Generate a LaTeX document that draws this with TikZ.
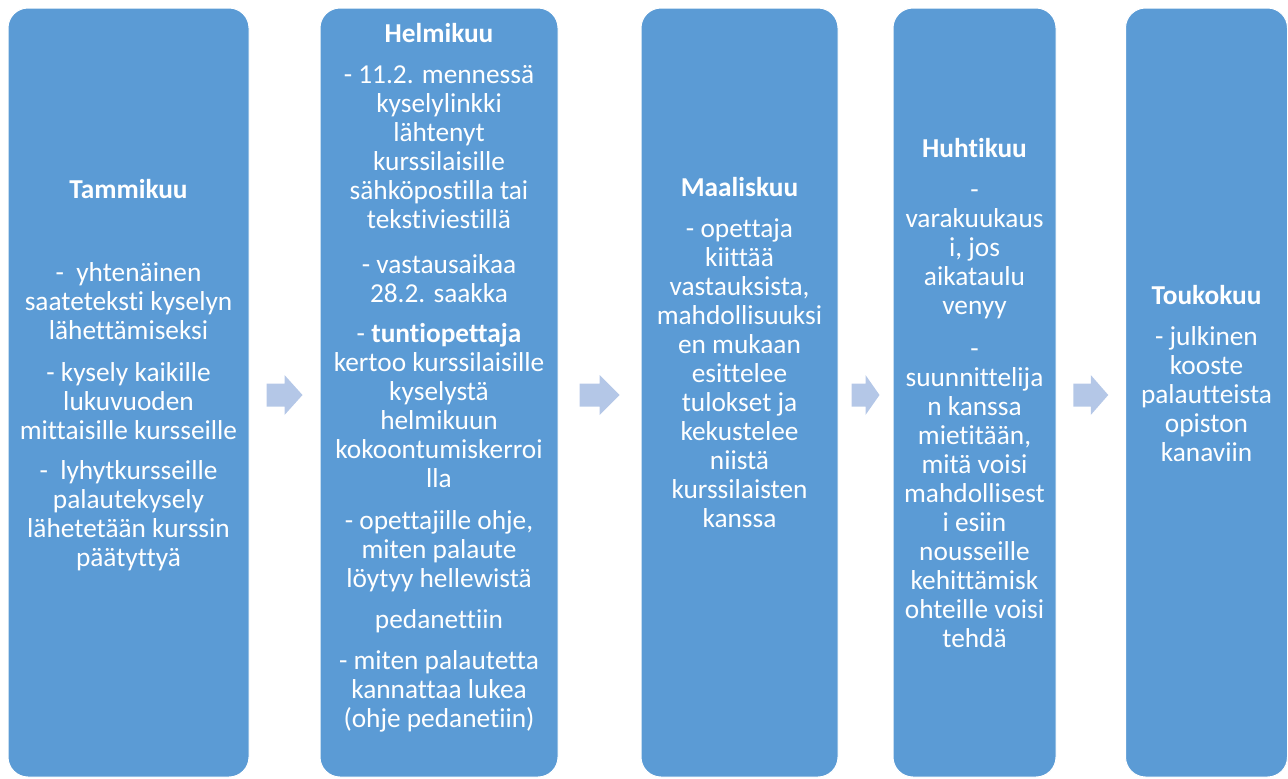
\documentclass[tikz,border=0pt]{standalone}
\usepackage{fontspec}
\setmainfont{Carlito}[Ligatures=NoCommon]
\usetikzlibrary{calc,positioning}
\definecolor{boxblue}{HTML}{5B9BD5}
\definecolor{arrowblue}{HTML}{B4C7E7}
\tikzset{
  monthbox/.style = {draw=white, line width=0.75pt, fill=boxblue,
    rounded corners=15pt, minimum height=769*0.75pt, inner sep=0pt},
  monthtext/.style = {text=white, align=center, inner sep=0pt,
    font=\fontsize{20.5}{21.75}\selectfont},
  steparrow/.style = {fill=arrowblue}
}
% block arrow halfway between two boxes: #1 left box, #2 right box, #3 half length
\newcommand{\stepArrow}[3]{%
  \fill[steparrow] ($(#1.east)!0.5!(#2.west)+(0,2.5)$) ++(-#3,-11.5) -- ++(#3,0)
    -- ++(0,-8.5) -- ++(#3,20) -- ++(-#3,20) -- ++(0,-8.5) -- ++(-#3,0) -- cycle;}

\begin{document}
\begin{tikzpicture}[x=0.75pt, y=-0.75pt]
    \useasboundingbox (0,0) rectangle (1288,778);
    % The month boxes
    \node[monthbox, minimum width=241*0.75pt] (tammi) at (128.5,392.5) {};
    \node[monthbox, minimum width=238*0.75pt] (helmi) at (439,392.5) {};
    \node[monthbox, minimum width=197*0.75pt] (maalis) at (739.5,392.5) {};
    \node[monthbox, minimum width=163*0.75pt] (huhti) at (974.5,392.5) {};
    \node[monthbox, minimum width=162*0.75pt] (touko) at (1206.5,392.5) {};
    % Arrows between the boxes
    \stepArrow{tammi}{helmi}{18}
    \stepArrow{helmi}{maalis}{20}
    \stepArrow{maalis}{huhti}{14}
    \stepArrow{huhti}{touko}{17.5}
    % Texts in the boxes
    \node[monthtext, below=172*0.75pt of tammi.north] (tammitext) {%
      \textbf{Tammikuu}\\[40pt]
      -~ yhtenäinen\\ saateteksti kyselyn\\ lähettämiseksi\\[10pt]
      - kysely kaikille\\ lukuvuoden\\ mittaisille kursseille\\[8pt]
      -~ lyhytkursseille\\ palautekysely\\ lähetetään kurssin\\ päätyttyä};
    \node[monthtext, below=16*0.75pt of helmi.north] (helmitext) {%
      \textbf{Helmikuu}\\[9pt]
      - 11.2. mennessä\\ kyselylinkki\\ lähtenyt\\ kurssilaisille\\
      sähköpostilla tai\\ tekstiviestillä\\[12pt]
      - vastausaikaa\\ 28.2. saakka\\[8pt]
      - \textbf{tuntiopettaja}\\ kertoo kurssilaisille\\ kyselystä\\ helmikuun\\
      kokoontumiskerroi\\ lla\\[10pt]
      - opettajille ohje,\\ miten palaute\\ löytyy hellewistä\\[9pt]
      pedanettiin\\[9pt]
      - miten palautetta\\ kannattaa lukea\\ (ohje pedanetiin)};
    \node[monthtext, below=170*0.75pt of maalis.north] (maalistext) {%
      \textbf{Maaliskuu}\\[9pt]
      - opettaja\\ kiittää\\ vastauksista,\\ mahdollisuuksi\\ en mukaan\\
      esittelee\\ tulokset ja\\ kekustelee\\ niistä\\ kurssilaisten\\ kanssa};
    \node[monthtext, below=131*0.75pt of huhti.north] (huhtitext) {%
      \textbf{Huhtikuu}\\[9pt]
      -\\ varakuukaus\\ i, jos\\ aikataulu\\ venyy\\[10pt]
      -\\ suunnittelija\\ n kanssa\\ mietitään,\\ mitä voisi\\ mahdollisest\\
      i esiin\\ nousseille\\ kehittämisk\\ ohteille voisi\\ tehdä};
    \node[monthtext, below=278*0.75pt of touko.north] (toukotext) {%
      \textbf{Toukokuu}\\[9pt]
      - julkinen\\ kooste\\ palautteista\\ opiston\\ kanaviin};
\end{tikzpicture}
\end{document}
